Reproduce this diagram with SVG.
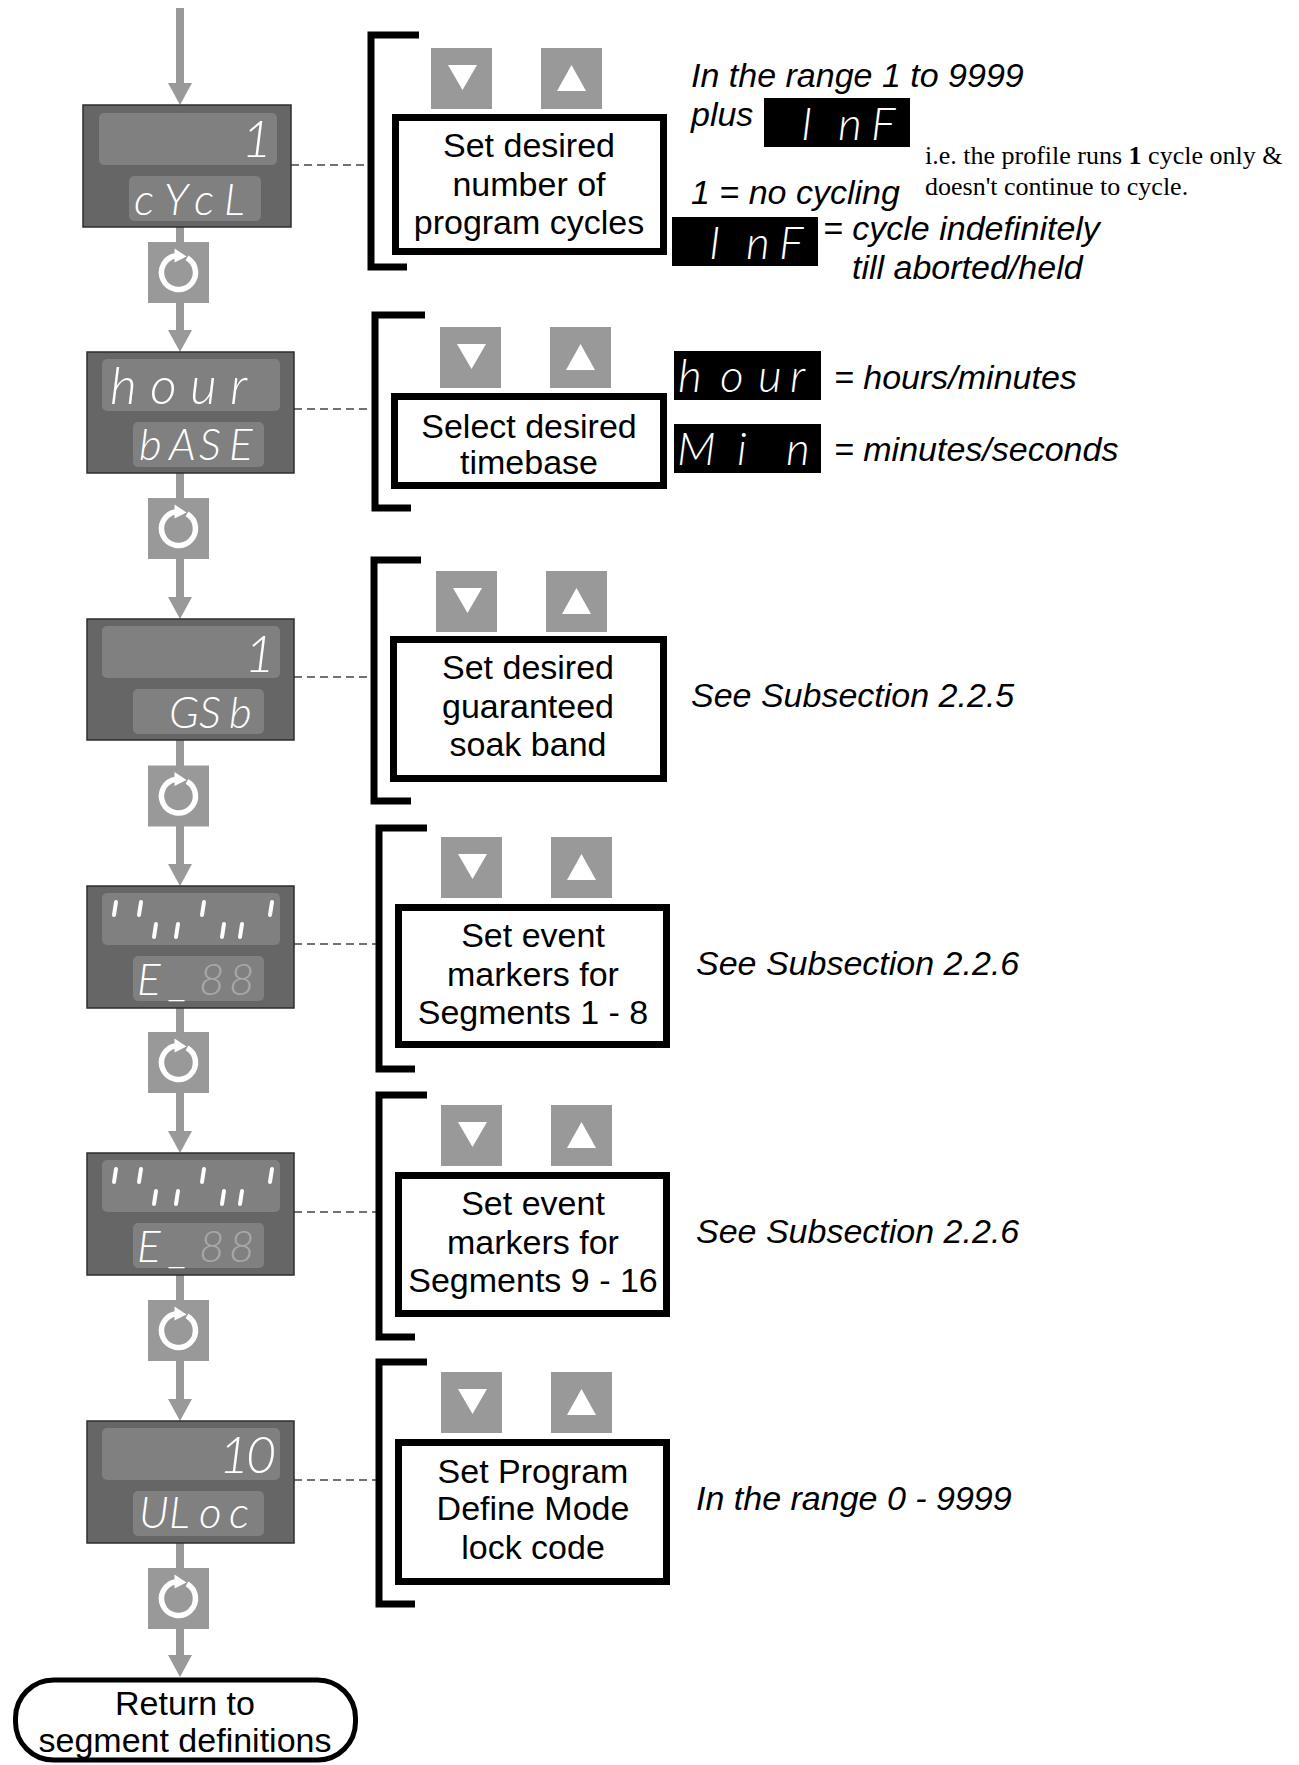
<svg xmlns="http://www.w3.org/2000/svg" xmlns:xlink="http://www.w3.org/1999/xlink" width="1299" height="1765" viewBox="0 0 1299 1765">
<defs>
<style>
.disp{fill:#666;stroke:#2e2e2e;stroke-width:1.5}
.win{fill:#808080}
.seg{font-family:Lato,Roboto,"DejaVu Sans",sans-serif;font-style:italic;font-weight:300;fill:#fff}
.up{font-size:52px}
.lo{font-size:44px}
.bx{font-size:46px}
.ghost{fill:#a8a8a8}
.btn{fill:#999}
.tri{fill:#fff}
.box{fill:#fff;stroke:#000;stroke-width:7}
.lbl{font-family:"Liberation Sans",Arial,sans-serif;font-size:34px;fill:#000;text-anchor:middle}
.note{font-family:"Liberation Sans",Arial,sans-serif;font-size:34px;font-style:italic;fill:#000}
.serif{font-family:"Liberation Serif","Times New Roman",serif;font-size:26px;fill:#000}
.brk{fill:none;stroke:#000;stroke-width:7;stroke-linejoin:miter;stroke-linecap:butt}
.dash{stroke:#444;stroke-width:1.5;stroke-dasharray:8 5;fill:none}
.flow{stroke:#999;stroke-width:8;fill:none}
.blk{fill:#000}
.mark{stroke:#fff;stroke-width:4;stroke-linecap:round}
.ret{fill:#fff;stroke:#000;stroke-width:5}
</style>
<marker id="ah" markerUnits="userSpaceOnUse" markerWidth="24" markerHeight="24" refX="0" refY="12" orient="auto" viewBox="0 0 22 24">
<path d="M0,0 L22,12 L0,24 Z" fill="#999"/>
</marker>
<g id="rf">
<rect x="-30.5" y="-30.5" width="61" height="61" fill="#999"/>
<path d="M8.5,-14.7 A17,17 0 1 1 -2.5,-16.8" fill="none" stroke="#fff" stroke-width="5.5"/>
<path d="M-4,-24 L-4,-10 L8,-16 Z" fill="#fff"/>
</g>
<g id="bdn"><rect width="61" height="61" class="btn"/><path d="M17,17 H46 L31.5,42 Z" class="tri"/></g>
<g id="bup"><rect width="61" height="61" class="btn"/><path d="M16,43 H45 L30.5,17 Z" class="tri"/></g>
</defs>
<rect width="1299" height="1765" fill="#fff"/>

<g id="connectors">
<line class="flow" x1="180" y1="8" x2="180" y2="83" marker-end="url(#ah)"/>
<line class="flow" x1="180" y1="227" x2="180" y2="330" marker-end="url(#ah)"/>
<line class="flow" x1="180" y1="473" x2="180" y2="597" marker-end="url(#ah)"/>
<line class="flow" x1="180" y1="740" x2="180" y2="864" marker-end="url(#ah)"/>
<line class="flow" x1="180" y1="1008" x2="180" y2="1131" marker-end="url(#ah)"/>
<line class="flow" x1="180" y1="1275" x2="180" y2="1399" marker-end="url(#ah)"/>
<line class="flow" x1="180" y1="1543" x2="180" y2="1655" marker-end="url(#ah)"/>
<line class="dash" x1="291" y1="165" x2="368" y2="165"/>
<line class="dash" x1="294" y1="409" x2="372" y2="409"/>
<line class="dash" x1="294" y1="677" x2="371" y2="677"/>
<line class="dash" x1="294" y1="944" x2="376" y2="944"/>
<line class="dash" x1="294" y1="1212" x2="376" y2="1212"/>
<line class="dash" x1="294" y1="1480" x2="376" y2="1480"/>
</g>

<g id="refresh1"><use href="#rf" x="178.5" y="272.5"/></g>
<g id="refresh2"><use href="#rf" x="178.5" y="528.5"/></g>
<g id="refresh3"><use href="#rf" x="178.5" y="796"/></g>
<g id="refresh4"><use href="#rf" x="178.5" y="1062.5"/></g>
<g id="refresh5"><use href="#rf" x="178.5" y="1330.5"/></g>
<g id="refresh6"><use href="#rf" x="178.5" y="1598.5"/></g>

<g id="display1">
<rect class="disp" x="83" y="105" width="208" height="122"/>
<rect class="win" x="99" y="113" width="178" height="52" rx="5"/>
<rect class="win" x="129" y="176" width="132" height="45" rx="5"/>
<text class="seg up" x="272" y="157" text-anchor="end">1</text>
<text class="seg lo" x="134 164 194 224" y="215">cYcL</text>
</g>

<g id="display2">
<rect class="disp" x="87" y="352" width="207" height="121"/>
<rect class="win" x="102" y="359" width="178" height="52" rx="5"/>
<rect class="win" x="133" y="422" width="131" height="45" rx="5"/>
<text class="seg up" x="110 150 190 230" y="404">hour</text>
<text class="seg lo" x="139 169 199 229" y="460">bASE</text>
</g>

<g id="display3">
<rect class="disp" x="87" y="619" width="207" height="121"/>
<rect class="win" x="102" y="626" width="178" height="52" rx="5"/>
<rect class="win" x="133" y="689" width="131" height="45" rx="5"/>
<text class="seg up" x="275" y="672" text-anchor="end">1</text>
<text class="seg lo" x="169 199 229" y="728">GSb</text>
</g>

<g id="display4">
<rect class="disp" x="87" y="886" width="207" height="122"/>
<rect class="win" x="102" y="893" width="178" height="52" rx="5"/>
<rect class="win" x="133" y="956" width="131" height="45" rx="5"/>
<g>
<line class="mark" x1="114" y1="915" x2="116" y2="902"/>
<line class="mark" x1="139" y1="915" x2="141" y2="902"/>
<line class="mark" x1="154" y1="937" x2="156" y2="924"/>
<line class="mark" x1="176" y1="937" x2="178" y2="924"/>
<line class="mark" x1="202" y1="915" x2="204" y2="902"/>
<line class="mark" x1="222" y1="937" x2="224" y2="924"/>
<line class="mark" x1="240" y1="937" x2="242" y2="924"/>
<line class="mark" x1="270" y1="915" x2="272" y2="902"/>
</g>
<text class="seg lo" x="137 169 199 229" y="995">E_<tspan class="ghost">88</tspan></text>
</g>

<g id="display5">
<rect class="disp" x="87" y="1153" width="207" height="122"/>
<rect class="win" x="102" y="1160" width="178" height="52" rx="5"/>
<rect class="win" x="133" y="1223" width="131" height="45" rx="5"/>
<g>
<line class="mark" x1="114" y1="1182" x2="116" y2="1169"/>
<line class="mark" x1="139" y1="1182" x2="141" y2="1169"/>
<line class="mark" x1="154" y1="1204" x2="156" y2="1191"/>
<line class="mark" x1="176" y1="1204" x2="178" y2="1191"/>
<line class="mark" x1="202" y1="1182" x2="204" y2="1169"/>
<line class="mark" x1="222" y1="1204" x2="224" y2="1191"/>
<line class="mark" x1="240" y1="1204" x2="242" y2="1191"/>
<line class="mark" x1="270" y1="1182" x2="272" y2="1169"/>
</g>
<text class="seg lo" x="137 169 199 229" y="1262">E_<tspan class="ghost">88</tspan></text>
</g>

<g id="display6">
<rect class="disp" x="87" y="1421" width="207" height="122"/>
<rect class="win" x="102" y="1428" width="178" height="52" rx="5"/>
<rect class="win" x="133" y="1491" width="131" height="45" rx="5"/>
<text class="seg up" x="219 246" y="1473">10</text>
<text class="seg lo" x="139 169 199 229" y="1528">ULoc</text>
</g>

<g id="step1">
<path class="brk" d="M419,35 H371 V267 H407"/>
<use href="#bdn" x="431" y="48"/>
<use href="#bup" x="541" y="48"/>
<rect class="box" x="395.5" y="117.5" width="268" height="134"/>
<text class="lbl" x="529" y="157">Set desired</text>
<text class="lbl" x="529" y="196">number of</text>
<text class="lbl" x="529" y="234">program cycles</text>
</g>

<g id="step2">
<path class="brk" d="M425,315 H375 V508 H411"/>
<use href="#bdn" x="440" y="327"/>
<use href="#bup" x="550" y="327"/>
<rect class="box" x="394.5" y="396.5" width="269" height="89"/>
<text class="lbl" x="529" y="438">Select desired</text>
<text class="lbl" x="529" y="474">timebase</text>
</g>

<g id="step3">
<path class="brk" d="M421,560 H374 V801 H411"/>
<use href="#bdn" x="436" y="571"/>
<use href="#bup" x="546" y="571"/>
<rect class="box" x="393.5" y="639.5" width="270" height="139"/>
<text class="lbl" x="528" y="679">Set desired</text>
<text class="lbl" x="528" y="718">guaranteed</text>
<text class="lbl" x="528" y="756">soak band</text>
</g>

<g id="step4">
<path class="brk" d="M427,828 H379 V1069 H415"/>
<use href="#bdn" x="441" y="837"/>
<use href="#bup" x="551" y="837"/>
<rect class="box" x="398.5" y="907.5" width="268" height="137"/>
<text class="lbl" x="533" y="947">Set event</text>
<text class="lbl" x="533" y="986">markers for</text>
<text class="lbl" x="533" y="1024">Segments 1 - 8</text>
</g>

<g id="step5">
<path class="brk" d="M427,1095 H379 V1337 H415"/>
<use href="#bdn" x="441" y="1105"/>
<use href="#bup" x="551" y="1105"/>
<rect class="box" x="398.5" y="1175.5" width="268" height="138"/>
<text class="lbl" x="533" y="1215">Set event</text>
<text class="lbl" x="533" y="1254">markers for</text>
<text class="lbl" x="533" y="1292">Segments 9 - 16</text>
</g>

<g id="step6">
<path class="brk" d="M427,1362 H379 V1604 H415"/>
<use href="#bdn" x="441" y="1372"/>
<use href="#bup" x="551" y="1372"/>
<rect class="box" x="398.5" y="1442.5" width="268" height="139"/>
<text class="lbl" x="533" y="1483">Set Program</text>
<text class="lbl" x="533" y="1520">Define Mode</text>
<text class="lbl" x="533" y="1559">lock code</text>
</g>

<g id="note1">
<text class="note" x="691" y="87">In the range 1 to 9999</text>
<text class="note" x="691" y="126">plus</text>
<rect class="blk" x="764" y="98" width="146" height="49"/>
<text class="seg bx" x="801 838 871" y="140">InF</text>
<text class="serif" x="925" y="164">i.e. the profile runs <tspan font-weight="bold">1</tspan> cycle only &amp;</text>
<text class="serif" x="925" y="195">doesn't continue to cycle.</text>
<text class="note" x="691" y="204">1 = no cycling</text>
<rect class="blk" x="672" y="217" width="146" height="49"/>
<text class="seg bx" x="709 746 779" y="259">InF</text>
<text class="note" x="823" y="240">= cycle indefinitely</text>
<text class="note" x="852" y="279">till aborted/held</text>
</g>

<g id="note2">
<rect class="blk" x="674" y="351" width="147" height="49"/>
<text class="seg bx" x="678 720 758 790" y="392">hour</text>
<text class="note" x="834" y="389">= hours/minutes</text>
<rect class="blk" x="674" y="424" width="147" height="49"/>
<text class="seg bx" x="677 737 786" y="465">Min</text>
<text class="note" x="834" y="461">= minutes/seconds</text>
</g>

<g id="note3"><text class="note" x="691" y="707">See Subsection 2.2.5</text></g>
<g id="note4"><text class="note" x="696" y="975">See Subsection 2.2.6</text></g>
<g id="note5"><text class="note" x="696" y="1243">See Subsection 2.2.6</text></g>
<g id="note6"><text class="note" x="696" y="1510">In the range 0 - 9999</text></g>

<g id="return">
<rect class="ret" x="15.5" y="1680" width="340" height="80" rx="38" ry="38"/>
<text class="lbl" x="185" y="1715">Return to</text>
<text class="lbl" x="185" y="1752">segment definitions</text>
</g>
</svg>
